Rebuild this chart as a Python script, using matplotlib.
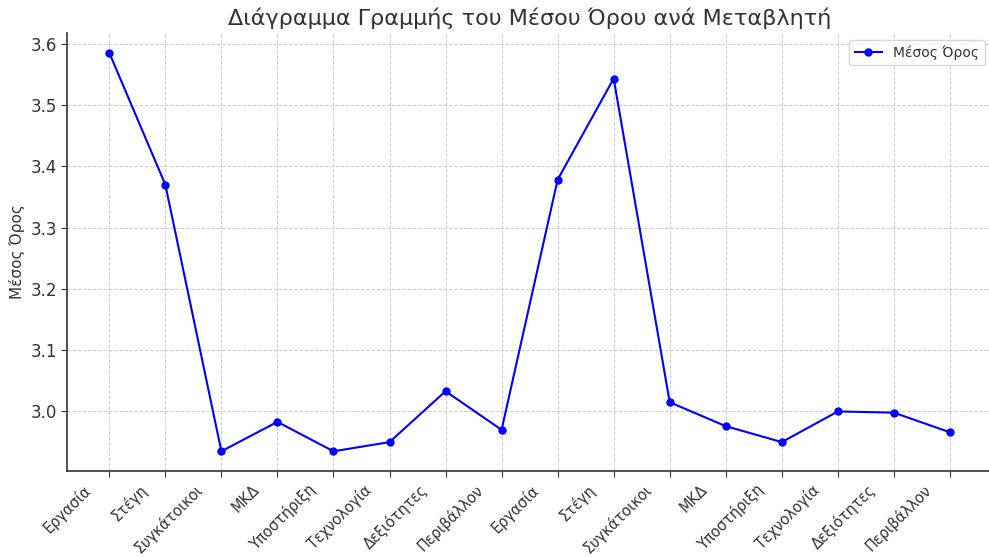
import matplotlib.pyplot as plt
from matplotlib.transforms import ScaledTranslation

# Data
categories = ["Εργασία", "Στέγη", "Συγκάτοικοι", "ΜΚΔ", "Υποστήριξη", "Τεχνολογία",
              "Δεξιότητες", "Περιβάλλον", "Εργασία", "Στέγη", "Συγκάτοικοι", "ΜΚΔ",
              "Υποστήριξη", "Τεχνολογία", "Δεξιότητες", "Περιβάλλον"]
mean_values = [3.585, 3.370, 2.935, 2.983, 2.935, 2.950, 3.033, 2.970,
               3.378, 3.543, 3.015, 2.976, 2.950, 3.000, 2.998, 2.966]

TEXT = "#333333"

fig = plt.figure(figsize=(9.89, 5.57), dpi=100)
ax = fig.add_axes([0.068, 0.154, 0.935, 0.787])

x = list(range(len(categories)))
ax.plot(x, mean_values, "o-", color="blue", linewidth=1.5, markersize=5, label="Μέσος Όρος")

ax.tick_params(axis="y", labelsize=12, labelcolor=TEXT)
ax.tick_params(colors=TEXT, length=4)
ax.set_xticks(x)
ax.set_xticklabels(categories, rotation=45, ha="right", fontsize=10.5, color=TEXT)
# labels sit a little left of their ticks in the reference
shift = ScaledTranslation(-15 / 100, 0, fig.dpi_scale_trans)
for lbl in ax.get_xticklabels():
    lbl.set_transform(lbl.get_transform() + shift)

ax.set_ylabel("Μέσος Όρος", fontsize=11, color=TEXT)
ax.set_title("Διάγραμμα Γραμμής του Μέσου Όρου ανά Μεταβλητή", fontsize=16, color=TEXT, pad=6)

ax.grid(True, linestyle="--", color="#cccccc", linewidth=0.7)
ax.set_axisbelow(True)
ax.spines["top"].set_visible(False)
ax.spines["right"].set_visible(False)
for s in ("left", "bottom"):
    ax.spines[s].set_color(TEXT)
    ax.spines[s].set_linewidth(1.2)

leg = ax.legend(loc="upper right", fontsize=10, labelcolor=TEXT)

fig.savefig("out.png", dpi=100)
